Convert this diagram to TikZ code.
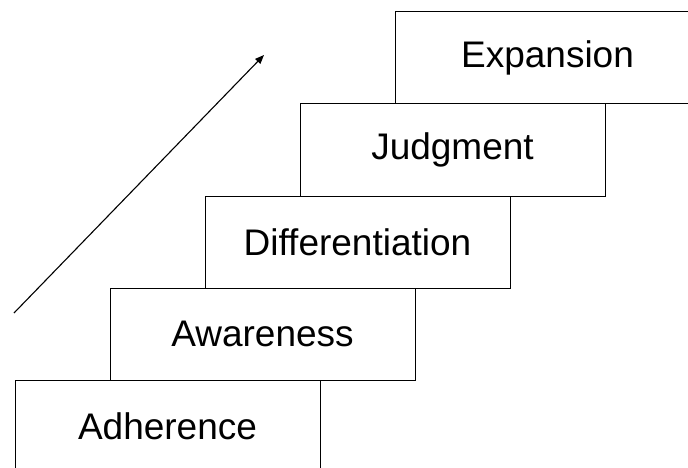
\documentclass[tikz,border=0pt]{standalone}
\usepackage{fontspec}
\setmainfont{Liberation Sans}
\usetikzlibrary{positioning}
\usetikzlibrary{arrows.meta}

\begin{document}
\begin{tikzpicture}[x=1pt,y=-1pt,
stairnode/.style={rectangle, draw=black, line width=1pt, fill=white, minimum width=305pt, minimum height=92pt, inner sep=0pt, font=\fontsize{37}{44}\selectfont},
]
\clip (0,0) rectangle (688,468);
\useasboundingbox (0,0) rectangle (688,468);
%Nodes
\node[stairnode]        (adherence)      at (167.5,426)                           {Adherence};
\node[stairnode]        (awareness)      [above=-1pt of adherence, xshift=95pt]   {Awareness};
\node[stairnode]        (differ)         [above=-1pt of awareness, xshift=95pt]   {Differentiation};
\node[stairnode]        (judgment)       [above=-1pt of differ, xshift=95pt]      {Judgment};
\node[stairnode]        (expansion)      [above=-1pt of judgment, xshift=95pt]    {Expansion};

%Arrow
\coordinate (low)  at (14,313);
\coordinate (high) at (264,55);
\draw[line width=1.1pt, -{Triangle[length=9pt,width=7pt]}] (low) -- (high);
\end{tikzpicture}
\end{document}
